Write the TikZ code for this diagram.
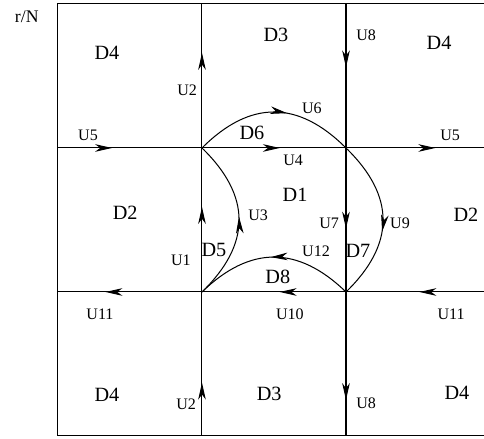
\documentclass[tikz,border=0pt]{standalone}
\usepackage{fontspec}
\setmainfont{Liberation Serif}
\usetikzlibrary{arrows.meta,decorations.markings}

\begin{document}
\begin{tikzpicture}[
    line width=0.6pt,
    flow/.style={postaction={decorate}, decoration={markings,
        mark=at position #1 with {\arrow{Stealth[length=10pt,width=4.5pt,inset=3pt]}}}},
    ulabel/.style={font=\fontsize{9.5}{11}\selectfont, inner sep=0pt},
    dlabel/.style={font=\fontsize{12}{14}\selectfont, inner sep=0pt}
  ]
  \useasboundingbox (-1.208,-0.0625) rectangle (8.875,9.083);

  % Grid points
  \coordinate (A) at (3,3);
  \coordinate (B) at (6,3);
  \coordinate (C) at (3,6);
  \coordinate (E) at (6,6);
  \coordinate (top1) at (3,9);
  \coordinate (top2) at (6,9);
  \coordinate (left1) at (0,6);
  \coordinate (left2) at (0,3);
  \coordinate (right1) at (9,6);
  \coordinate (right2) at (9,3);
  \coordinate (bot1) at (3,0);
  \coordinate (bot2) at (6,0);

  % Outer frame
  \draw (0,0) rectangle (9,9);

  % Vertical lines
  \draw[flow=0.66] (C) -- (top1);
  \draw[flow=0.44] (top2) -- (E);
  \draw[flow=0.59] (A) -- (C);
  \draw[flow=0.56] (E) -- (B);
  \draw[flow=0.37] (bot1) -- (A);
  \draw[flow=0.75] (B) -- (bot2);

  % Horizontal lines
  \draw[flow=0.375] (left1) -- (C);
  \draw[flow=0.54] (C) -- (E);
  \draw[flow=0.62] (E) -- (right1);
  \draw[flow=0.67] (A) -- (left2);
  \draw[flow=0.46] (B) -- (A);
  \draw[flow=0.49] (right2) -- (B);

  % Curved trajectories
  \draw[flow=0.58] (C) .. controls (4,7) and (5,7) .. (E);
  \draw[flow=0.52] (A) .. controls (4.03,4) and (4.03,5) .. (C);
  \draw[flow=0.57] (E) .. controls (7.03,5) and (7.03,4) .. (B);
  \draw[flow=0.52] (B) .. controls (5,3.97) and (4,3.97) .. (A);

  % Axis label
  \node[font=\fontsize{10.5}{12}\selectfont] (rn) at (-0.65,8.73) {r/N};

  % Region labels
  \node[dlabel] (d4a) at (1.02,7.98) {D4};
  \node[dlabel] (d3a) at (4.54,8.35) {D3};
  \node[dlabel] (d4b) at (7.94,8.19) {D4};
  \node[dlabel] (d6) at (4.04,6.31) {D6};
  \node[dlabel] (d2a) at (1.40,4.65) {D2};
  \node[dlabel] (d1) at (4.94,5.02) {D1};
  \node[dlabel] (d2b) at (8.5,4.60) {D2};
  \node[dlabel] (d5) at (3.25,3.875) {D5};
  \node[dlabel] (d7) at (6.25,3.85) {D7};
  \node[dlabel] (d8) at (4.58,3.31) {D8};
  \node[dlabel] (d4c) at (1.02,0.85) {D4};
  \node[dlabel] (d3b) at (4.40,0.875) {D3};
  \node[dlabel] (d4d) at (8.31,0.90) {D4};

  % Flow labels
  \node[ulabel] (u2a) at (2.69,7.21) {U2};
  \node[ulabel] (u8a) at (6.42,8.35) {U8};
  \node[ulabel] (u6) at (5.29,6.83) {U6};
  \node[ulabel] (u5a) at (0.625,6.27) {U5};
  \node[ulabel] (u5b) at (8.17,6.27) {U5};
  \node[ulabel] (u4) at (4.90,5.75) {U4};
  \node[ulabel] (u3) at (4.17,4.60) {U3};
  \node[ulabel] (u7) at (5.65,4.42) {U7};
  \node[ulabel] (u9) at (7.125,4.44) {U9};
  \node[ulabel] (u1) at (2.56,3.67) {U1};
  \node[ulabel] (u12) at (5.375,3.85) {U12};
  \node[ulabel] (u10) at (4.83,2.54) {U10};
  \node[ulabel] (u11a) at (0.875,2.54) {U11};
  \node[ulabel] (u11b) at (8.19,2.54) {U11};
  \node[ulabel] (u2b) at (2.67,0.67) {U2};
  \node[ulabel] (u8b) at (6.42,0.69) {U8};
\end{tikzpicture}
\end{document}
